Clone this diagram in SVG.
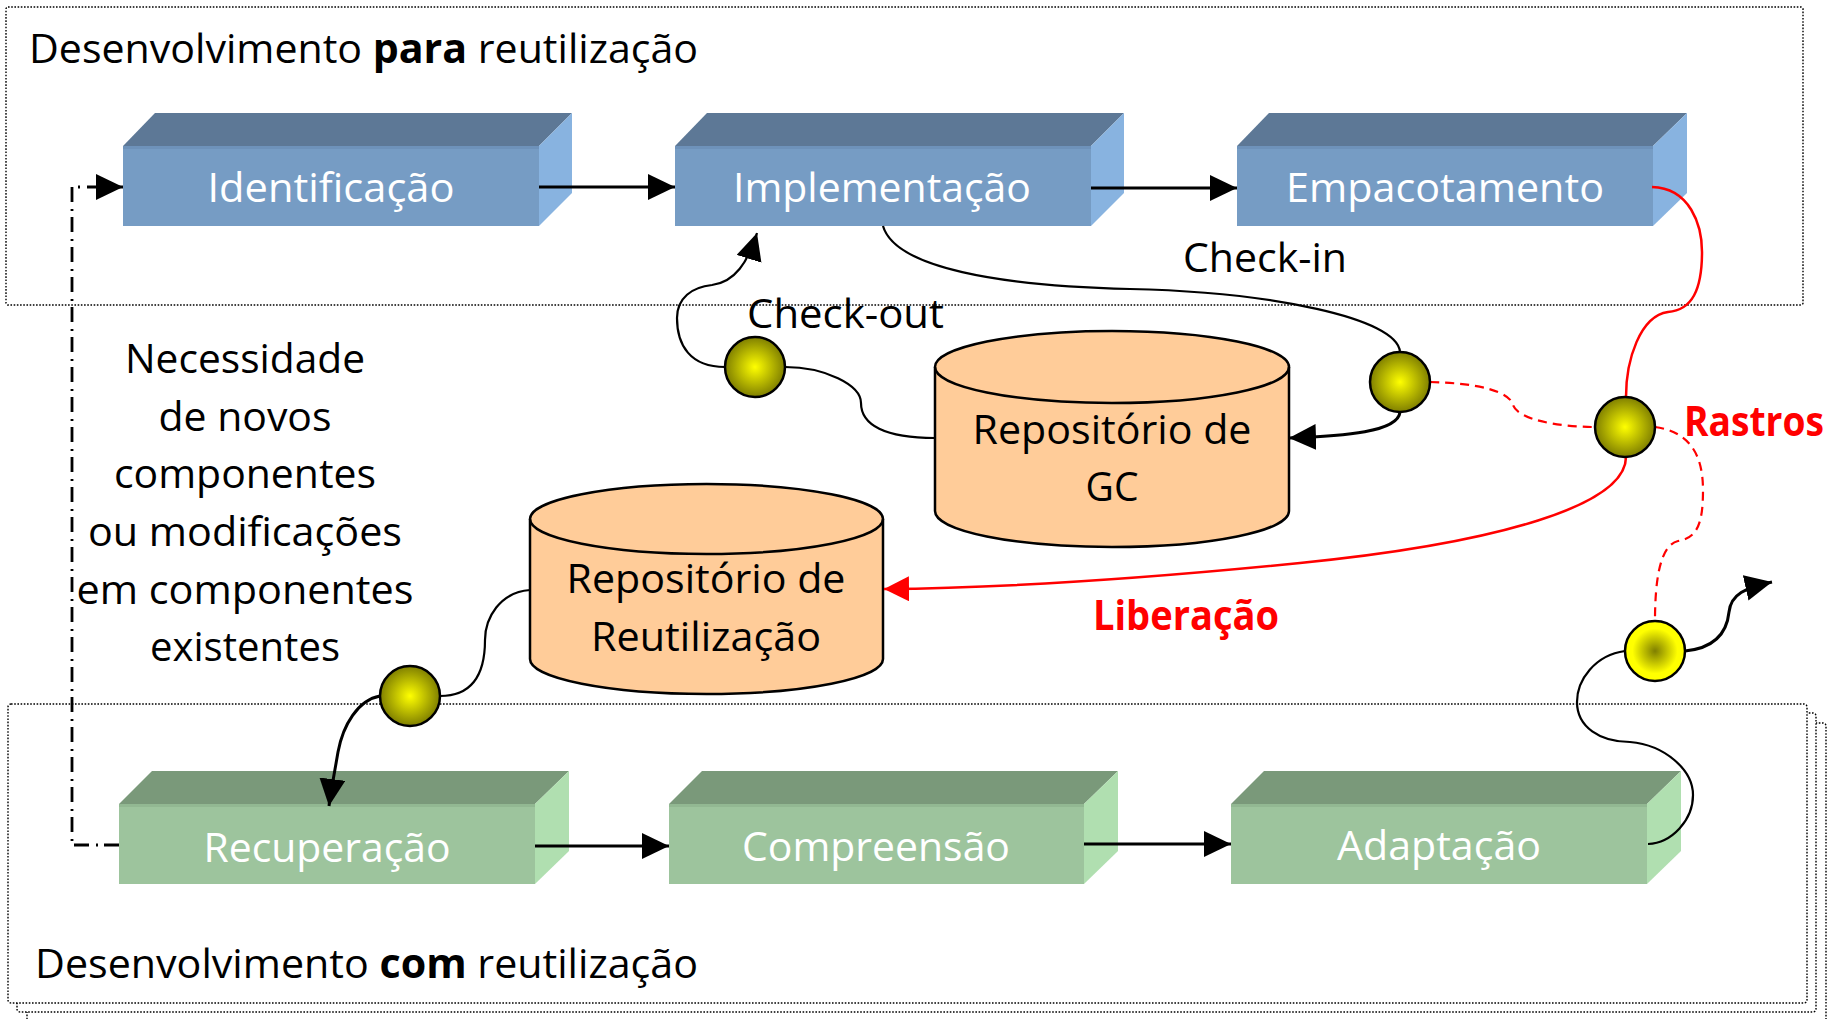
<svg xmlns="http://www.w3.org/2000/svg" width="1835" height="1019" viewBox="0 0 1835 1019">
<style>
text{font-family:"Open Sans","Liberation Sans",sans-serif;}
.t{font-size:41px;fill:#000;}
.w{font-size:41px;fill:#fff;text-anchor:middle;}
.c{text-anchor:middle;}
.r{font-size:41px;fill:#f00;font-weight:bold;}
.frame{fill:#fff;stroke:#000;stroke-width:1.4;stroke-dasharray:1.6 1.6;}
.cyl{fill:#FFCC99;stroke:#000;stroke-width:2.5;}
.ball{stroke:#000;stroke-width:2.5;}
.k{fill:none;stroke:#000;stroke-width:2.2;}
.ka{fill:none;stroke:#000;stroke-width:3;}
.rs{fill:none;stroke:#f00;stroke-width:2.5;}
.rd{fill:none;stroke:#f00;stroke-width:2.2;stroke-dasharray:9 6;}
.bt{fill:#5D7896;} .bf{fill:#769CC4;} .br{fill:#88B3E0;}
.gt{fill:#7A997A;} .gf{fill:#9DC49D;} .gr{fill:#B0DFB0;}
</style>
<defs>
<marker id="ah" markerUnits="userSpaceOnUse" markerWidth="30" markerHeight="30" refX="27" refY="13" orient="auto">
<path d="M0,0 L27,13 L0,26 z" fill="#000"/>
</marker>
<marker id="ahr" markerUnits="userSpaceOnUse" markerWidth="30" markerHeight="30" refX="25" refY="12.5" orient="auto">
<path d="M0,0 L25,12.5 L0,25 z" fill="#f00"/>
</marker>
<radialGradient id="gy" cx="0.5" cy="0.5" r="0.5">
<stop offset="0" stop-color="#FFFF00"/>
<stop offset="1" stop-color="#7F7F00"/>
</radialGradient>
<radialGradient id="gi" cx="0.5" cy="0.5" r="0.5">
<stop offset="0" stop-color="#7F7F00"/>
<stop offset="0.75" stop-color="#FFFF00"/>
<stop offset="1" stop-color="#FFFF00"/>
</radialGradient>
</defs>

<g id="frame-para">
<rect x="6" y="7" width="1797" height="298" rx="2" fill="none" stroke="#000" stroke-width="1.4" stroke-dasharray="1.6 1.6"/>
<text class="t" x="29" y="63" font-size="39" textLength="669" lengthAdjust="spacingAndGlyphs">Desenvolvimento <tspan font-weight="bold">para</tspan> reutilização</text>
</g>

<g id="frame-com">
<rect class="frame" x="27" y="723" width="1799" height="300" rx="3"/>
<rect class="frame" x="17" y="713" width="1799" height="299" rx="3"/>
<rect class="frame" x="8" y="704" width="1799" height="299" rx="3"/>
<text class="t" x="35" y="978" font-size="39" textLength="663" lengthAdjust="spacingAndGlyphs">Desenvolvimento <tspan font-weight="bold">com</tspan> reutilização</text>
</g>

<g id="identificacao">
<polygon class="bt" points="123,146 155,113 572,113 539,146"/>
<rect class="bf" x="123" y="146" width="416" height="80"/>
<rect x="123" y="146" width="416" height="3" fill="#6E92BA"/>
<polygon class="br" points="539,146 572,113 572,193 539,226"/>
<text class="w" x="331" y="202" textLength="247" lengthAdjust="spacingAndGlyphs">Identificação</text>
</g>
<g id="implementacao">
<polygon class="bt" points="675,146 707,113 1124,113 1091,146"/>
<rect class="bf" x="675" y="146" width="416" height="80"/>
<rect x="675" y="146" width="416" height="3" fill="#6E92BA"/>
<polygon class="br" points="1091,146 1124,113 1124,193 1091,226"/>
<text class="w" x="882" y="202" textLength="298" lengthAdjust="spacingAndGlyphs">Implementação</text>
</g>
<g id="empacotamento">
<polygon class="bt" points="1237,146 1269,113 1687,113 1653,146"/>
<rect class="bf" x="1237" y="146" width="416" height="80"/>
<rect x="1237" y="146" width="416" height="3" fill="#6E92BA"/>
<polygon class="br" points="1653,146 1687,113 1687,193 1653,226"/>
<text class="w" x="1445" y="202" textLength="318" lengthAdjust="spacingAndGlyphs">Empacotamento</text>
</g>

<g id="recuperacao">
<polygon class="gt" points="119,804 152,771 569,771 535,804"/>
<rect class="gf" x="119" y="804" width="416" height="80"/>
<rect x="119" y="804" width="416" height="3" fill="#92B892"/>
<polygon class="gr" points="535,804 569,771 569,851 535,884"/>
<text class="w" x="327" y="862" textLength="247" lengthAdjust="spacingAndGlyphs">Recuperação</text>
</g>
<g id="compreensao">
<polygon class="gt" points="669,804 702,771 1118,771 1084,804"/>
<rect class="gf" x="669" y="804" width="415" height="80"/>
<rect x="669" y="804" width="415" height="3" fill="#92B892"/>
<polygon class="gr" points="1084,804 1118,771 1118,851 1084,884"/>
<text class="w" x="876" y="861" textLength="268" lengthAdjust="spacingAndGlyphs">Compreensão</text>
</g>
<g id="adaptacao">
<polygon class="gt" points="1231,804 1264,771 1681,771 1647,804"/>
<rect class="gf" x="1231" y="804" width="416" height="80"/>
<rect x="1231" y="804" width="416" height="3" fill="#92B892"/>
<polygon class="gr" points="1647,804 1681,771 1681,851 1647,884"/>
<text class="w" x="1439" y="860" textLength="204" lengthAdjust="spacingAndGlyphs">Adaptação</text>
</g>

<g id="repo-gc">
<path class="cyl" d="M935,367 A177,36 0 0 1 1289,367 V511 A177,36 0 0 1 935,511 Z"/>
<path d="M935,367 A177,36 0 0 0 1289,367" fill="none" stroke="#000" stroke-width="2.5"/>
<text class="t c" x="1112" y="444" textLength="279" lengthAdjust="spacingAndGlyphs">Repositório de</text>
<text class="t c" x="1112" y="501" textLength="53" lengthAdjust="spacingAndGlyphs">GC</text>
</g>

<g id="repo-reutilizacao">
<path class="cyl" d="M530,519 A176.5,35 0 0 1 883,519 V659 A176.5,35 0 0 1 530,659 Z"/>
<path d="M530,519 A176.5,35 0 0 0 883,519" fill="none" stroke="#000" stroke-width="2.5"/>
<text class="t c" x="706" y="593" textLength="279" lengthAdjust="spacingAndGlyphs">Repositório de</text>
<text class="t c" x="706" y="651" textLength="230" lengthAdjust="spacingAndGlyphs">Reutilização</text>
</g>

<g id="necessidade">
<text class="t c" x="245" y="373" textLength="240" lengthAdjust="spacingAndGlyphs">Necessidade</text>
<text class="t c" x="245" y="431" textLength="173" lengthAdjust="spacingAndGlyphs">de novos</text>
<text class="t c" x="245" y="488" textLength="262" lengthAdjust="spacingAndGlyphs">componentes</text>
<text class="t c" x="245" y="546" textLength="314" lengthAdjust="spacingAndGlyphs">ou modificações</text>
<text class="t c" x="245" y="604" textLength="337" lengthAdjust="spacingAndGlyphs">em componentes</text>
<text class="t c" x="245" y="661" textLength="190" lengthAdjust="spacingAndGlyphs">existentes</text>
</g>

<g id="connectors">
<path class="ka" d="M539,187 H675" marker-end="url(#ah)"/>
<path class="ka" d="M1091,188 H1237" marker-end="url(#ah)"/>
<path class="ka" d="M535,846 H669" marker-end="url(#ah)"/>
<path class="ka" d="M1084,844 H1231" marker-end="url(#ah)"/>
<path fill="none" stroke="#000" stroke-width="2.8" stroke-dasharray="15 6 2 7" d="M119,845 H72 V187 H123" marker-end="url(#ah)"/>

<path class="k" d="M935,438 C885,438 861,425 861,403 C861,385 825,367 785,367"/>
<path class="k" d="M725,367 C690,367 677,345 677,318 C677,298 692,287 712,285 C735,282 748,262 757,233" marker-end="url(#ah)"/>
<path class="k" d="M883,226 C895,268 1000,286 1130,289 C1270,292 1398,318 1400,352"/>
<path class="ka" d="M1400,412 C1398,432 1345,436 1289,438" marker-end="url(#ah)"/>

<path class="rs" d="M1652,187 C1690,188 1702,225 1702,252 C1702,290 1692,310 1668,312 C1640,316 1626,360 1626,397"/>
<path class="rs" d="M1626,457 C1626,505 1500,543 1300,563 C1150,578 1000,588 884,589" marker-end="url(#ahr)"/>
<path class="rd" d="M1430,382 C1480,383 1510,392 1513,405 C1518,420 1560,427 1595,427"/>
<path class="rd" d="M1655,427 C1690,432 1703,455 1703,490 C1703,522 1698,538 1678,541 C1660,545 1655,580 1655,621"/>

<path class="ka" d="M1685,651 C1715,648 1727,632 1729,612 C1731,594 1745,588 1772,582" marker-end="url(#ah)"/>
<path class="k" d="M1625,651 C1595,655 1577,680 1577,702 C1577,727 1600,742 1630,742 C1665,745 1693,770 1693,795 C1693,820 1672,843 1648,844"/>
<path class="k" d="M530,590 C500,592 485,618 485,640 C485,680 468,696 440,696"/>
<path class="ka" d="M380,696 C358,700 343,725 338,752 C335,770 331,790 329,806" marker-end="url(#ah)"/>
</g>

<g id="ball-checkout"><circle class="ball" cx="755" cy="367" r="30" fill="url(#gy)"/></g>
<g id="ball-checkin"><circle class="ball" cx="1400" cy="382" r="30" fill="url(#gy)"/></g>
<g id="ball-rastros"><circle class="ball" cx="1625" cy="427" r="30" fill="url(#gy)"/></g>
<g id="ball-adaptacao"><circle class="ball" cx="1655" cy="651" r="30" fill="url(#gi)"/></g>
<g id="ball-recuperacao"><circle class="ball" cx="410" cy="696" r="30" fill="url(#gy)"/></g>

<g id="labels">
<text class="t" x="1183" y="272" textLength="164" lengthAdjust="spacingAndGlyphs">Check-in</text>
<text class="t" x="747" y="328" textLength="197" lengthAdjust="spacingAndGlyphs">Check-out</text>
<text class="r" x="1684" y="436" textLength="140" lengthAdjust="spacingAndGlyphs">Rastros</text>
<text class="r" x="1093" y="630" textLength="186" lengthAdjust="spacingAndGlyphs">Liberação</text>
</g>
</svg>
